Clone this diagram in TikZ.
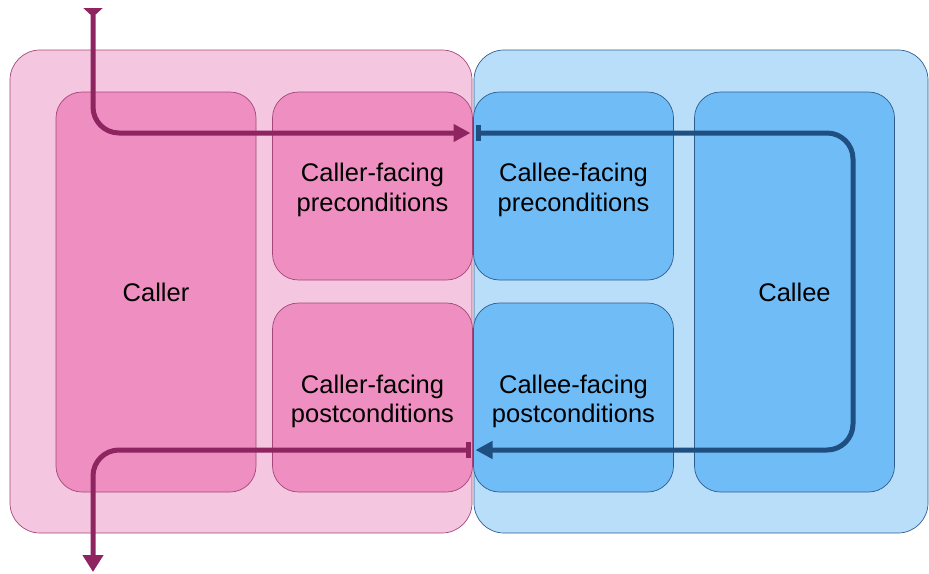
\documentclass[tikz,border=0pt]{standalone}
\usepackage{fontspec}
\setmainfont{Liberation Sans}
\usetikzlibrary{arrows.meta}
\definecolor{pinkOut}{HTML}{F5C6E0}
\definecolor{pinkIn}{HTML}{EF8FC1}
\definecolor{pinkEdge}{HTML}{A3477A}
\definecolor{pinkLine}{HTML}{8E2560}
\definecolor{blueOut}{HTML}{B9DEFA}
\definecolor{blueIn}{HTML}{70BCF7}
\definecolor{blueEdge}{HTML}{2F5E8E}
\definecolor{blueLine}{HTML}{1F4E80}
\newcommand{\twolines}[2]{\raisebox{0pt}[\dimexpr\height+8pt\relax]{\shortstack{#1\\[3pt]#2}}}
\tikzset{
  outerbox/.style={rounded corners=30pt, line width=0.7pt, minimum width=#1, inner sep=0pt, outer sep=0pt, minimum height=483pt},
  innerbox/.style={rounded corners=26pt, line width=0.7pt, inner sep=0pt, outer sep=0pt, minimum width=200pt, align=center,
     font=\fontsize{25.5}{30}\selectfont},
  pinkbox/.style={innerbox, fill=pinkIn, draw=pinkEdge},
  bluebox/.style={innerbox, fill=blueIn, draw=blueEdge},
  pinkline/.style={draw=pinkLine, line width=5pt, rounded corners=26pt},
  blueline/.style={draw=blueLine, line width=5pt, rounded corners=26pt},
}
\begin{document}
\begin{tikzpicture}[x=1pt,y=-1pt]
\useasboundingbox (0,0) rectangle (929,573);
\node[outerbox=462pt, fill=pinkOut, draw=pinkEdge] (callerside) at (241,291.5) {};
\node[outerbox=454pt, fill=blueOut, draw=blueEdge] (calleeside) at (701,291.5) {};
\node[pinkbox, minimum height=400pt] (caller) at (156,292) {Caller};
\node[pinkbox, minimum height=188pt] (crpre) at (372.5,186) {\twolines{Caller-facing}{preconditions}};
\node[pinkbox, minimum height=189pt] (crpost) at (372.5,397.5) {\twolines{Caller-facing}{postconditions}};
\node[bluebox, minimum height=188pt] (cepre) at (573.5,186) {\twolines{Callee-facing}{preconditions}};
\node[bluebox, minimum height=189pt] (cepost) at (573.5,397.5) {\twolines{Callee-facing}{postconditions}};
\node[bluebox, minimum height=400pt] (callee) at (794.5,292) {Callee};
% connectors
\coordinate (in) at (93,8);
\coordinate (out) at (93,572);
\coordinate (turnA) at (853,133);
\coordinate (turnB) at (853,450);
\draw[pinkline, {Triangle[reversed,length=9pt,width=19pt]}-{Triangle[length=17pt,width=17pt]}]
  (in) |- ([xshift=-2pt]crpre.east |- 0,133);
\draw[blueline, {Rectangle[length=5pt,width=16pt]}-{Triangle[length=17pt,width=17pt]}]
  ([xshift=2pt]cepre.west |- 0,133) -- (turnA) -- (turnB) -- ([xshift=2pt]cepost.west |- 0,450);
\draw[pinkline, {Rectangle[length=5pt,width=16pt]}-{Triangle[length=17pt,width=20pt]}]
  ([xshift=-2pt]crpost.east |- 0,450) -| (out);
\end{tikzpicture}
\end{document}
